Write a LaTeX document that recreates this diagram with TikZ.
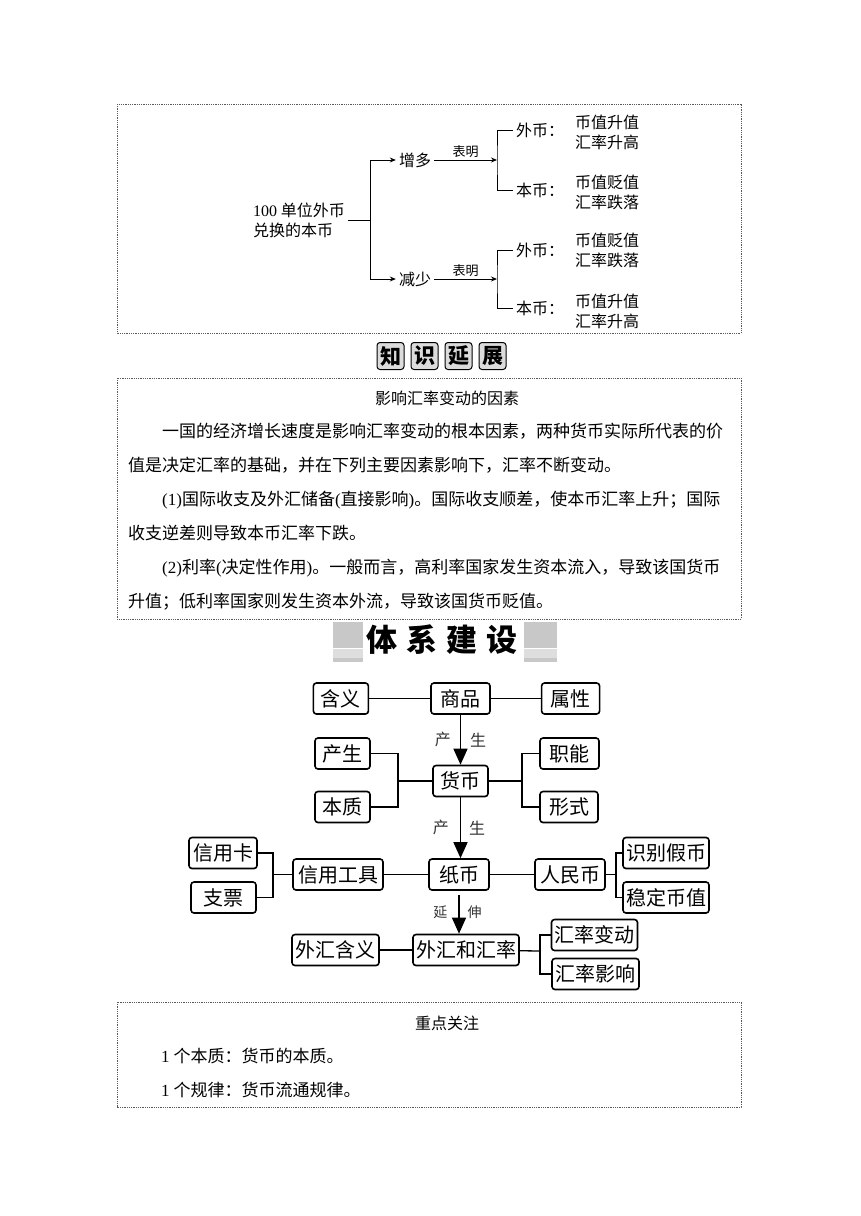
\documentclass[tikz,border=0pt]{standalone}
\usepackage{fontspec}
\usepackage{tikz}
\usetikzlibrary{arrows.meta,positioning,calc}
\setmainfont{Noto Sans CJK SC}
\newfontfamily\latin{Liberation Serif}
\XeTeXlinebreaklocale "zh"
\XeTeXlinebreakskip=0pt plus 1pt
\definecolor{tagfill}{HTML}{DCDCDC}
\definecolor{blockgray}{HTML}{C8C8C8}
\definecolor{bandgray}{HTML}{DEDEDE}
\newcommand{\fillline}[1]{\leavevmode\hbox to 606pt{#1}}
\newcommand{\lat}[1]{{\latin #1}}
\tikzset{
  frame/.style={draw=black!65, line width=0.7pt, dash pattern=on 1pt off 0.8pt},
  treetext/.style={font=\fontsize{16}{20}\selectfont, inner sep=3pt, align=left},
  treeline/.style={line width=0.9pt},
  treearrow/.style={treeline, -{Stealth[length=6pt,width=5pt]}},
  smalllabel/.style={font=\fontsize{13}{15}\selectfont, inner sep=2pt},
  tagbox/.style={draw, line width=1pt, fill=tagfill, rounded corners=3pt, minimum width=27pt, minimum height=27pt, inner sep=0pt, font=\fontsize{21}{22}\bfseries},
  bodytext/.style={font=\fontsize{17}{34}\selectfont, inner sep=0pt, text width=606pt, align=left},
  concept/.style={draw, line width=1.6pt, rounded corners=3pt, minimum height=31pt, minimum width=55pt, inner xsep=3pt, inner ysep=0pt, font=\fontsize{20}{24}\selectfont},
  link/.style={line width=1.3pt},
  growarrow/.style={line width=1.3pt, -{Triangle[length=16pt,width=14pt]}},
  growlabel/.style={font=\fontsize{16}{18}\selectfont, text=black!80, inner sep=0pt}
}

\begin{document}
\begin{tikzpicture}[x=1pt,y=-1pt]
  \useasboundingbox (0,0) rectangle (860,1216);

  % box 1: exchange rate tree
  \draw[frame] (117,104) rectangle (741,333);
  \node[treetext] (src) at (299,220) {\lat{100} 单位外币\\兑换的本币};
  \coordinate (trunk) at (370,220);
  \node[treetext] (more) at (415,160) {增多};
  \node[treetext] (less) at (415,279) {减少};
  \draw[treeline] (src) -- (trunk);
  \draw[treearrow] (trunk) |- (more);
  \draw[treearrow] (trunk) |- (less);

  \coordinate (forkA) at (497,160);
  \coordinate (forkB) at (497,279);
  \draw[treearrow] (more) -- node[smalllabel, above] {表明} (forkA);
  \draw[treearrow] (less) -- node[smalllabel, above] {表明} (forkB);

  \node[treetext, anchor=west] (fa1) at (513,130) {外币：};
  \node[treetext, anchor=west] (fb1) at (513,190) {本币：};
  \node[treetext, anchor=west] (fa2) at (513,250) {外币：};
  \node[treetext, anchor=west] (fb2) at (513,308) {本币：};
  \draw[treeline] (fa1.west) -| (forkA) |- (fb1.west);
  \draw[treeline] (fa2.west) -| (forkB) |- (fb2.west);
  \node[treetext, anchor=west] (va1) at (572,132) {币值升值\\汇率升高};
  \node[treetext, anchor=west] (vb1) at (572,192) {币值贬值\\汇率跌落};
  \node[treetext, anchor=west] (va2) at (572,250) {币值贬值\\汇率跌落};
  \node[treetext, anchor=west] (vb2) at (572,311) {币值升值\\汇率升高};

  % heading tags
  \foreach \ch [count=\i] in {知,识,延,展}
    \node[tagbox] (tag\i) at ({390.5+(\i-1)*34},356) {\ch};

  % box 2: factors
  \draw[frame] (117,378) rectangle (741,619);
  \node[font=\fontsize{16}{18}\selectfont] (factors) at (447,398) {影响汇率变动的因素};
  \node[bodytext, anchor=north west] (body) at (128,423) {%
    \fillline{\hspace*{34pt}一国的经济增长速度是影响汇率变动的根本因素，两种货币实际所代表的价}\\
    值是决定汇率的基础，并在下列主要因素影响下，汇率不断变动。\\
    \fillline{\hspace*{34pt}\lat{(1)}国际收支及外汇储备\lat{(}直接影响\lat{)}。国际收支顺差，使本币汇率上升；国际}\\
    收支逆差则导致本币汇率下跌。\\
    \fillline{\hspace*{34pt}\lat{(2)}利率\lat{(}决定性作用\lat{)}。一般而言，高利率国家发生资本流入，导致该国货币}\\
    升值；低利率国家则发生资本外流，导致该国货币贬值。};

  % system heading
  \fill[blockgray] (333,622) rectangle (363,662);
  \fill[bandgray] (333,648) rectangle (363,658);
  \draw[white, line width=0.8pt] (333,648) -- (363,648);
  \fill[blockgray] (524,622) rectangle (557,662);
  \fill[bandgray] (524,648) rectangle (557,658);
  \draw[white, line width=0.8pt] (524,648) -- (557,648);
  \node[font=\fontsize{31}{34}\bfseries] (system) at (442,640) {体\hspace{9pt}系\hspace{9pt}建\hspace{9pt}设};

  % concept map
  \node[concept, minimum width=59pt] (goods) at (460.5,698.5) {商品};
  \node[concept, left=61pt of goods] (meaning) {含义};
  \node[concept, right=50pt of goods, minimum width=58pt] (attr) {属性};
  \node[concept] (money) at (460.5,781) {货币};
  \node[concept] (origin) at (342.5,753.5) {产生};
  \node[concept] (essence) at (342.5,807) {本质};
  \node[concept, minimum width=59pt] (func) at (569.5,753.5) {职能};
  \node[concept, minimum width=58pt] (form) at (569,807) {形式};
  \node[concept, minimum width=60pt] (paper) at (459,874.5) {纸币};
  \node[concept, minimum width=90pt] (credit) at (338,874.5) {信用工具};
  \node[concept, minimum width=68pt] (card) at (223,853) {信用卡};
  \node[concept, minimum width=65pt] (cheque) at (223.5,897.5) {支票};
  \node[concept, minimum width=70pt] (rmb) at (570,874.5) {人民币};
  \node[concept, minimum width=84pt] (fake) at (666,853) {识别假币};
  \node[concept, minimum width=84pt] (stable) at (666,897.5) {稳定币值};
  \node[concept, minimum width=106pt] (forex) at (466,950) {外汇和汇率};
  \node[concept, minimum width=87pt] (fxmean) at (335.5,950) {外汇含义};
  \node[concept, minimum width=85pt] (change) at (594.5,935) {汇率变动};
  \node[concept, minimum width=87pt] (effect) at (595.5,974) {汇率影响};

  \draw[link] (meaning) -- (goods);
  \draw[link] (goods) -- (attr);
  \draw[growarrow] (goods) -- node[growlabel, left=9pt] {产} node[growlabel, right=9pt] {生} (money);
  \draw[growarrow] (money) -- node[growlabel, left=11pt] {产} node[growlabel, right=8pt] {生} (money |- paper.north);
  \draw[growarrow, shorten <=4pt] (paper) -- node[growlabel, font=\fontsize{14}{16}\selectfont, left=11pt] {延} node[growlabel, font=\fontsize{14}{16}\selectfont, right=8pt] {伸} (paper |- forex.north);

  \coordinate (lj) at (398,781);
  \coordinate (rj) at (522,781);
  \draw[link] (origin) -| (lj) |- (essence);
  \draw[link] (lj) -- (money);
  \draw[link] (func) -| (rj) |- (form);
  \draw[link] (money) -- (rj);

  \coordinate (cj) at (273,874.5);
  \coordinate (mj) at (616,874.5);
  \draw[link] (card) -| (cj) |- (cheque);
  \draw[link] (cj) -- (credit);
  \draw[link] (credit) -- (paper);
  \draw[link] (paper) -- (rmb);
  \draw[link] (rmb) -- (mj);
  \draw[link] (fake) -| (mj) |- (stable);

  \coordinate (fj) at (540,951);
  \draw[link] (fxmean) -- (forex);
  \draw[link] (forex) -- (fj);
  \draw[link] (change) -| (fj) |- (effect);

  % box 4: key points
  \draw[frame] (117,1002) rectangle (741,1107);
  \node[font=\fontsize{16}{18}\selectfont] (focus) at (447,1023) {重点关注};
  \node[font=\fontsize{17}{20}\selectfont, anchor=west, inner sep=0pt] (point1) at (161,1056) {\lat{1} 个本质：货币的本质。};
  \node[font=\fontsize{17}{20}\selectfont, anchor=west, inner sep=0pt] (point2) at (161,1090) {\lat{1} 个规律：货币流通规律。};
\end{tikzpicture}
\end{document}
